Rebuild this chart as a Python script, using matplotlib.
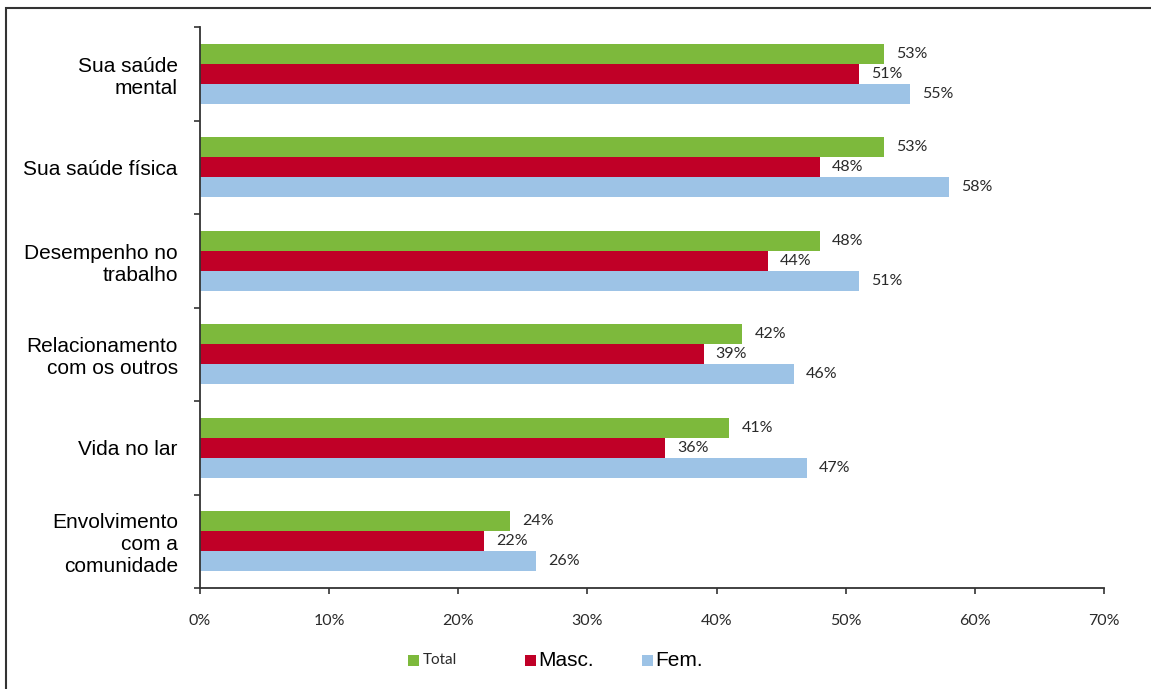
import matplotlib
matplotlib.use("Agg")
import matplotlib.pyplot as plt
from matplotlib.patches import Rectangle
import numpy as np

# Dados por categoria (percentual)
categorias = ["Sua saúde\nmental", "Sua saúde física", "Desempenho no\ntrabalho",
              "Relacionamento\ncom os outros", "Vida no lar",
              "Envolvimento\ncom a\ncomunidade"]
total = [53, 53, 48, 42, 41, 24]
masc = [51, 48, 44, 39, 36, 22]
fem = [55, 58, 51, 46, 47, 26]

series = [("Total", total, "#7db93c"),
          ("Masc.", masc, "#c00027"),
          ("Fem.", fem, "#9dc3e6")]

fonte_num = "Lato"
fonte_txt = "Liberation Sans"

fig = plt.figure(figsize=(11.51, 6.89), dpi=100)
ax = fig.add_axes([200 / 1151, 1 - 588 / 689, 904 / 1151, 561 / 689])

n = len(categorias)
y = np.arange(n)
h = 0.215

for i, (nome, vals, cor) in enumerate(series):
    pos = y + (i - 1) * h
    ax.barh(pos, vals, height=h, color=cor, edgecolor="none")
    for p, v in zip(pos, vals):
        ax.annotate(f"{v}%", (v, p), xytext=(12, 0), textcoords="offset pixels",
                    va="center", ha="left", fontsize=11.5, family=fonte_num,
                    color="#2a2a2a")

ax.set_xlim(0, 70)
ax.set_ylim(n - 0.5, -0.5)

# eixo x
ax.set_xticks(np.arange(0, 71, 10))
ax.set_xticklabels([f"{v}%" for v in range(0, 71, 10)], family=fonte_num, fontsize=11.5,
                   color="#2a2a2a")
ax.tick_params(axis="x", direction="out", length=4.5, width=1.2, color="#333333", pad=14)

# eixo y: traços nos limites dos grupos, rótulos no centro
ax.set_yticks(np.arange(-0.5, n, 1.0))
ax.set_yticklabels([])
ax.set_yticks(y, minor=True)
ax.set_yticklabels(categorias, minor=True, fontsize=15, family=fonte_txt)
ax.tick_params(axis="y", which="major", direction="out", length=4.5, width=1.2,
               color="#333333")
ax.tick_params(axis="y", which="minor", length=0, pad=16)

for lado in ("top", "right"):
    ax.spines[lado].set_visible(False)
for lado in ("left", "bottom"):
    ax.spines[lado].set_color("#333333")
    ax.spines[lado].set_linewidth(1.3)

# legenda
leg_y = 1 - 660 / 689
leg_x = [408, 525, 642]
for (nome, vals, cor), x0 in zip(series, leg_x):
    fig.patches.append(Rectangle((x0 / 1151, leg_y - 5.5 / 689), 11 / 1151, 11 / 689,
                                 transform=fig.transFigure, facecolor=cor,
                                 edgecolor="none"))
    if nome == "Total":
        fig.text((x0 + 15) / 1151, leg_y, nome, va="center", ha="left",
                 fontsize=11, family=fonte_num, color="#2a2a2a")
    else:
        fig.text((x0 + 13) / 1151, leg_y, nome, va="center", ha="left",
                 fontsize=15, family=fonte_txt)

# moldura
fig.patches.append(Rectangle((6 / 1151, -0.2), 1.3, 1.2 - 8 / 689,
                             transform=fig.transFigure, facecolor="none",
                             edgecolor="#333333", linewidth=1.5))

fig.savefig("out.png", dpi=100)
